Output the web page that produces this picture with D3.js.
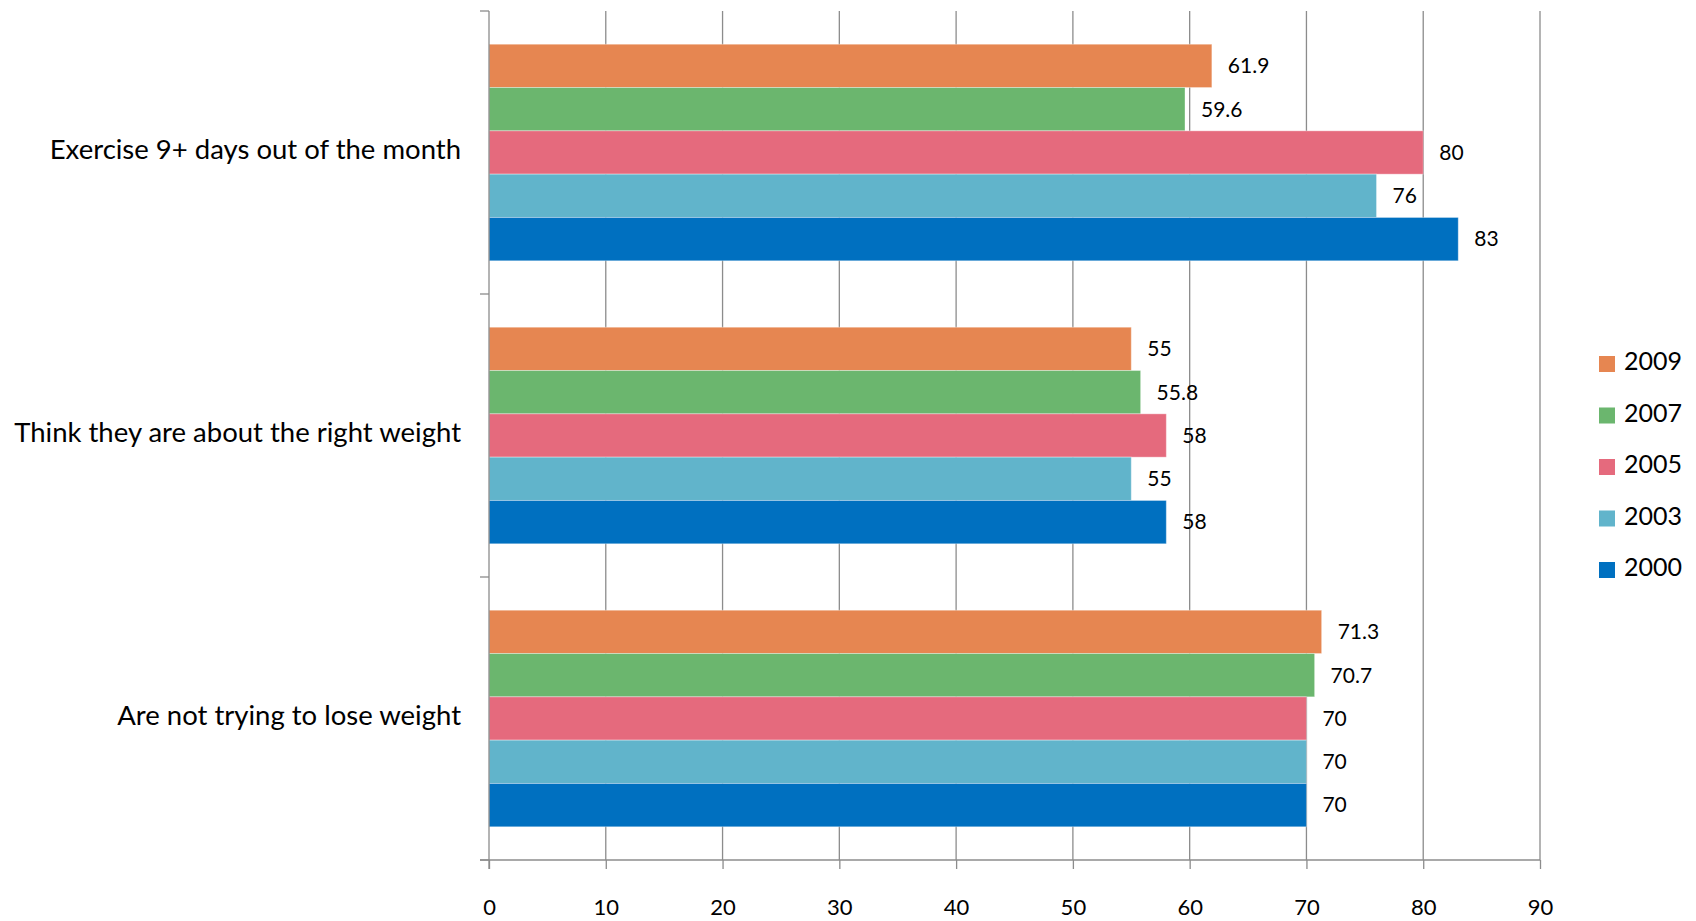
<!DOCTYPE html>
<html><head><meta charset="utf-8">
<script src="https://cdn.jsdelivr.net/npm/d3@7"></script>
<style>
body{margin:0;background:#fff;}
text{font-family:Lato,"Open Sans",sans-serif;fill:#000;}
</style></head>
<body><svg id="c" width="1696" height="921"></svg>
<script>
const categories = ["Exercise 9+ days out of the month","Think they are about the right weight","Are not trying to lose weight"];
const seriesNames = ["2009","2007","2005","2003","2000"];
const v2009 = [61.9, 55, 71.3];
const v2007 = [59.6, 55.8, 70.7];
const v2005 = [80, 58, 70];
const v2003 = [76, 55, 70];
const v2000 = [83, 58, 70];
const seriesValues = [v2009, v2007, v2005, v2003, v2000];
const colors = ["#E68651","#6BB66E","#E56A7D","#61B4CB","#0070C0"];
const xTicks = [0,10,20,30,40,50,60,70,80,90];

const svg = d3.select("#c");
const x = d3.scaleLinear().domain([0,90]).range([489,1540]);
const y = d3.scaleBand().domain(categories).range([11,860]).padding(0);
const yi = d3.scaleBand().domain(seriesNames).range([0,y.bandwidth()]).paddingInner(0).paddingOuter(0.767);
const axisColor = "#8c8c8c";

// gridlines
svg.append("g").selectAll("line").data(xTicks.slice(1)).join("line")
  .attr("x1",d=>x(d)).attr("x2",d=>x(d)).attr("y1",11).attr("y2",860)
  .attr("stroke",axisColor).attr("stroke-width",1.3);

// bars
const data = [];
categories.forEach((c,ci)=>seriesNames.forEach((s,si)=>data.push({c,s,v:seriesValues[si][ci],col:colors[si]})));
svg.append("g").selectAll("rect").data(data).join("rect")
  .attr("x",x(0)).attr("y",d=>y(d.c)+yi(d.s))
  .attr("width",d=>x(d.v)-x(0)).attr("height",yi.bandwidth())
  .attr("fill",d=>d.col).attr("stroke","rgba(255,255,255,0.35)").attr("stroke-width",1);

// value labels
svg.append("g").selectAll("text").data(data).join("text")
  .attr("x",d=>x(d.v)+16).attr("y",d=>y(d.c)+yi(d.s)+yi.bandwidth()/2+2)
  .attr("dominant-baseline","middle").style("font-size","21px")
  .text(d=>d.v);

// bottom axis
const xa = svg.append("g").attr("transform","translate(0,860)")
  .call(d3.axisBottom(x).tickValues(xTicks).tickSize(9).tickPadding(30).tickSizeOuter(0));
xa.select(".domain").attr("stroke",axisColor).attr("stroke-width",1.3).attr("d","M480,0H"+x(90));
xa.selectAll(".tick line").attr("stroke",axisColor).attr("stroke-width",1.3);
xa.selectAll(".tick text").style("font-size","22px").style("font-family","Lato,sans-serif").attr("fill","#000");

// left axis
const bounds = categories.map(c=>y(c)).concat([y.range()[1]]);
svg.append("line").attr("x1",x(0)).attr("x2",x(0)).attr("y1",11).attr("y2",869)
  .attr("stroke",axisColor).attr("stroke-width",1.3);
svg.append("g").selectAll("line").data(bounds).join("line")
  .attr("x1",x(0)-9).attr("x2",x(0)).attr("y1",d=>d).attr("y2",d=>d)
  .attr("stroke",axisColor).attr("stroke-width",1.3);

// category labels
svg.append("g").selectAll("text").data(categories).join("text")
  .attr("x",461).attr("y",d=>y(d)+y.bandwidth()/2)
  .attr("text-anchor","end").attr("dominant-baseline","middle")
  .style("font-size","27.5px").text(d=>d);

// legend
const lg = svg.append("g");
seriesNames.forEach((s,i)=>{
  const yy = 356 + i*51.5;
  lg.append("rect").attr("x",1599).attr("y",yy).attr("width",16).attr("height",16).attr("fill",colors[i]);
  lg.append("text").attr("x",1624).attr("y",yy+8).attr("dominant-baseline","middle")
    .style("font-size","25px").text(s);
});
</script></body></html>
